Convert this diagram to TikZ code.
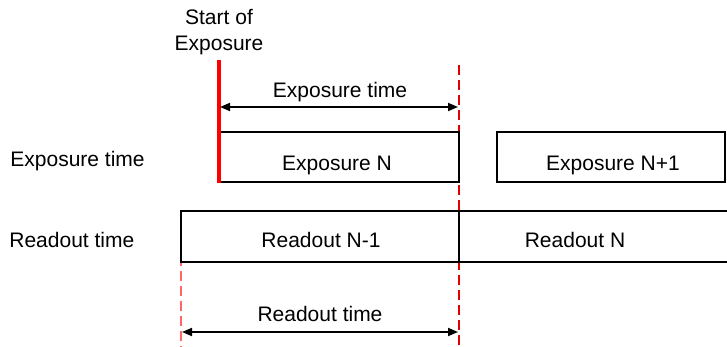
\documentclass[tikz,border=0pt]{standalone}
\usepackage{fontspec}
\setmainfont{Liberation Sans}
\usetikzlibrary{arrows.meta}
\begin{document}
\begin{tikzpicture}[x=0.5pt,y=-0.5pt,
  box/.style={draw=black, line width=1pt},
  lbl/.style={font=\fontsize{10.5}{13}\selectfont, inner sep=0pt, anchor=base},
  dim/.style={line width=0.9pt, {Triangle[length=5pt,width=4pt]}-{Triangle[length=5pt,width=4pt]}},
  guide/.style={dash pattern=on 5pt off 2.5pt, line width=0.6pt}]
\useasboundingbox (0,0) rectangle (727,347);
% coordinates
\coordinate (eNtl) at (218,132);
\coordinate (eNbr) at (459,182);
\coordinate (eMtl) at (497,132);
\coordinate (eMbr) at (725,182);
\coordinate (rAtl) at (181,211);
\coordinate (rAbr) at (459,262);
\coordinate (rBtl) at (459,211);
\coordinate (rBtr) at (727,211);
\coordinate (rBbl) at (459,262);
\coordinate (rBbr) at (727,262);
\coordinate (redT) at (219,60);
\coordinate (redB) at (219,183);
\coordinate (gRT) at (459,65);
\coordinate (gRB) at (459,347);
\coordinate (gLT) at (181,211);
\coordinate (gLB) at (181,347);
\coordinate (eaL) at (220,107);
\coordinate (eaR) at (458,107);
\coordinate (raL) at (182,332);
\coordinate (raR) at (458,332);
% guides
\draw[guide, draw=red!90!black] (gRT) -- (gRB);
\draw[guide, draw=red!60] (gLT) -- (gLB);
% boxes
\draw[box] (eNtl) rectangle (eNbr);
\draw[box] (eMtl) rectangle (eMbr);
\draw[box] (rAtl) rectangle (rAbr);
\draw[box] (rBtl) -- (rBtr);
\draw[box] (rBbl) -- (rBbr);
% red start line
\draw[draw=red, line width=2pt] (redT) -- (redB);
% dimension arrows
\draw[dim] (eaL) -- (eaR);
\draw[dim] (raL) -- (raR);
% labels
\node[lbl] (start1) at (219,25) {Start of};
\node[lbl] (start2) at (219,51) {Exposure};
\node[lbl] (expt) at (340,98) {Exposure time};
\node[lbl, anchor=base west] (lexp) at (10,167) {Exposure time};
\node[lbl, anchor=base west] (lread) at (9,247) {Readout time};
\node[lbl] (expN) at (337,170) {Exposure N};
\node[lbl] (expM) at (613,170) {Exposure N+1};
\node[lbl] (readA) at (321,248) {Readout N-1};
\node[lbl] (readB) at (575,248) {Readout N};
\node[lbl] (readt) at (320,321) {Readout time};
\end{tikzpicture}
\end{document}
